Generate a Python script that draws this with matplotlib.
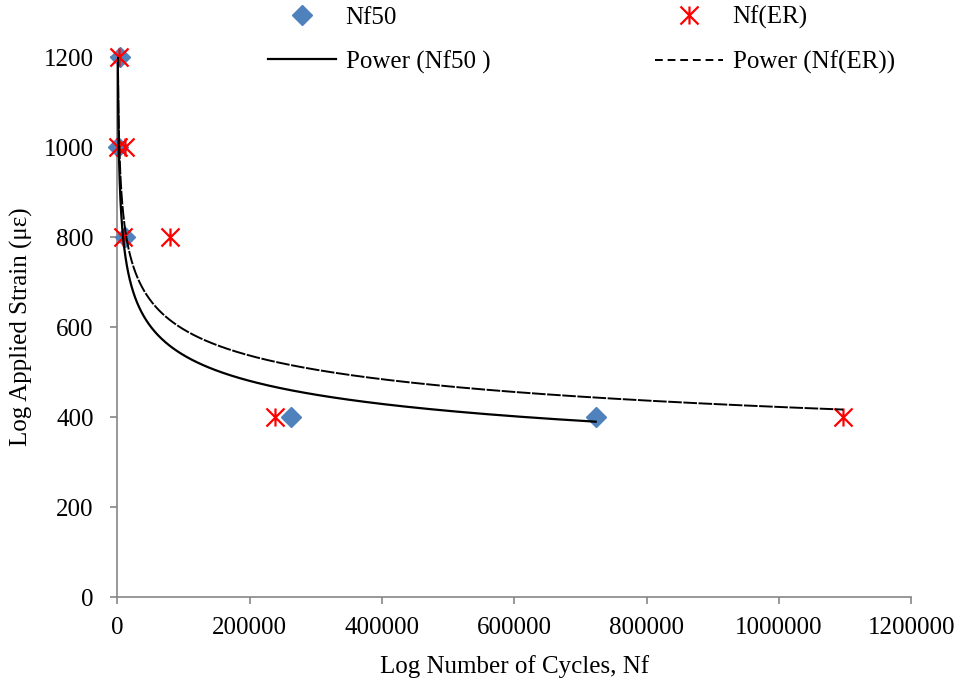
import numpy as np
import matplotlib
matplotlib.use('Agg')
import matplotlib.pyplot as plt
from matplotlib.path import Path

# strain levels (microstrain) and cycles to failure
nf50_cycles = [4000, 600, 11600, 263000, 723000]
nf50_strain = [1200, 1000, 800, 400, 400]

nfer_cycles = [2500, 600, 11600, 9000, 79600, 238000, 1097000]
nfer_strain = [1200, 1000, 1000, 800, 800, 400, 400]

x_ticks = [0, 200000, 400000, 600000, 800000, 1000000, 1200000]
y_ticks = [0, 200, 400, 600, 800, 1000, 1200]


def power_fit(x, y):
	# same as an excel "power" trendline: least squares in log-log space
	b, ln_a = np.polyfit(np.log(x), np.log(y), 1)
	xs = np.geomspace(min(x), max(x), 500)
	return xs, np.exp(ln_a) * xs ** b


def main():
	plt.rcParams['font.family'] = ['Liberation Serif', 'DejaVu Serif']
	fs = 18
	axis_grey = '#868686'

	# excel style asterisk: X plus a vertical bar
	star = Path([(0, -1), (0, 1), (-1, -1), (1, 1), (-1, 1), (1, -1)],
				[Path.MOVETO, Path.LINETO, Path.MOVETO, Path.LINETO, Path.MOVETO, Path.LINETO])

	fig = plt.figure(figsize=(9.62, 6.88), dpi=100)
	ax = fig.add_axes([117.3 / 962, 1 - 597.3 / 688, 794 / 962, 540.3 / 688])

	h1, = ax.plot(nf50_cycles, nf50_strain, linestyle='none', marker='D', ms=10,
				  color='#4F81BD', mec='#4F81BD', clip_on=False, zorder=3)
	h2, = ax.plot(nfer_cycles, nfer_strain, linestyle='none', marker=star, ms=13,
				  mfc='none', mec='#FF0000', mew=1.6, clip_on=False, zorder=4)

	xs, ys = power_fit(nf50_cycles, nf50_strain)
	h3, = ax.plot(xs, ys, color='black', lw=1.6, zorder=5)
	xs, ys = power_fit(nfer_cycles, nfer_strain)
	h4, = ax.plot(xs, ys, color='black', lw=1.4, linestyle=(0, (4, 1.2)), zorder=5)
	# on the long flat part excel's dashes run together
	h4.set_dashes([7, 0.8])

	ax.set_xlim(0, 1200000)
	ax.set_ylim(0, 1200)
	ax.set_xticks(x_ticks)
	ax.set_yticks(y_ticks)
	ax.set_xticklabels([str(t) for t in x_ticks])
	ax.set_yticklabels([str(t) for t in y_ticks])

	for side in ['top', 'right']:
		ax.spines[side].set_visible(False)
	for side in ['left', 'bottom']:
		ax.spines[side].set_color(axis_grey)
		ax.spines[side].set_linewidth(1.2)
	ax.tick_params(axis='both', direction='out', length=5, width=1.2, color=axis_grey,
				   labelsize=fs, labelcolor='black')
	ax.tick_params(axis='y', pad=12)
	ax.tick_params(axis='x', pad=9)

	ax.set_xlabel('Log Number of Cycles, Nf', fontsize=fs, labelpad=12)
	ax.set_ylabel('Log Applied Strain (\u03bc\u03b5)', fontsize=fs, labelpad=8)

	fake_dash = plt.Line2D([], [], color='black', lw=1.4, linestyle=(0, (4, 2.5)))
	fig.legend([h1, h3, h2, fake_dash], ['Nf50', 'Power (Nf50 )', 'Nf(ER)', 'Power (Nf(ER))'],
			   loc='upper left', bbox_to_anchor=(268 / 962, 1 - 6 / 688), ncol=2,
			   frameon=False, fontsize=fs, borderpad=0, borderaxespad=0,
			   handlelength=2.7, handletextpad=0.4, columnspacing=6.6,
			   labelspacing=0.85, numpoints=1)

	fig.savefig('out.png', dpi=100)


if __name__ == "__main__":
	main()
